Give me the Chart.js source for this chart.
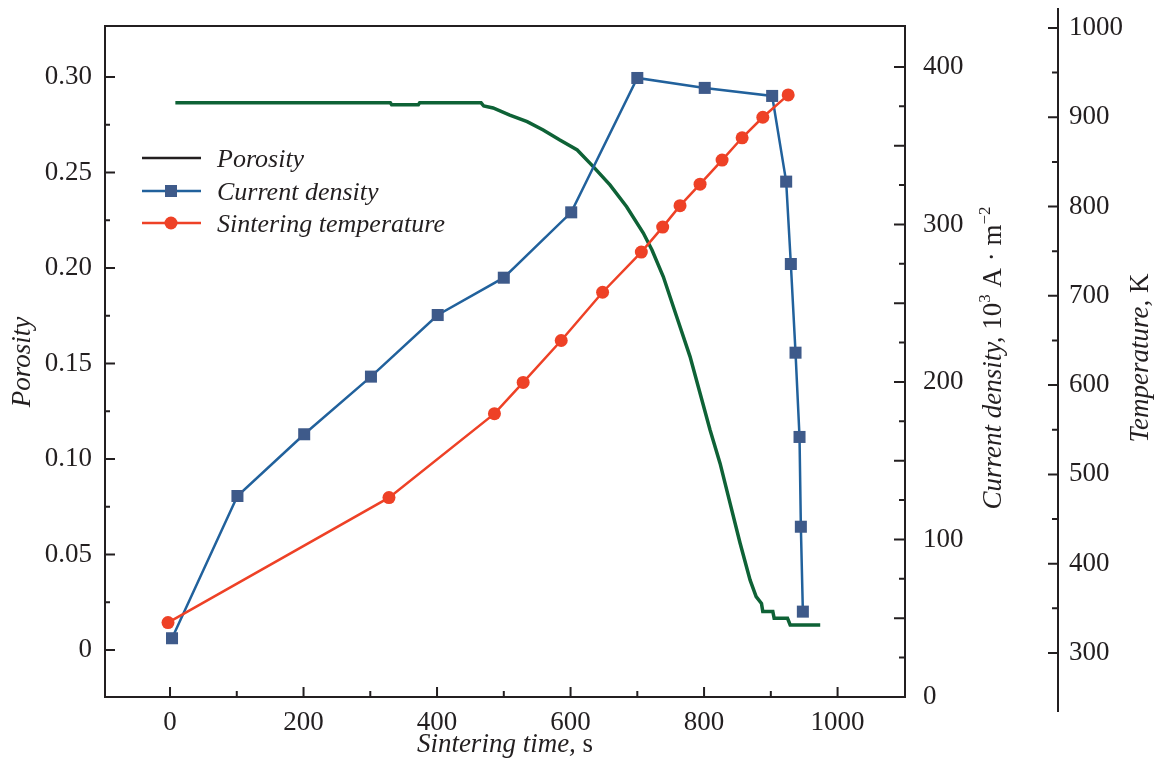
<!DOCTYPE html>
<html lang="en">
<head>
<meta charset="UTF-8">
<title>Porosity, current density and temperature vs sintering time</title>
<script src="https://cdn.jsdelivr.net/npm/chart.js"></script>
<style>
  html, body { margin: 0; padding: 0; background: #fff; }
  #wrap { width: 1154px; height: 764px; }
</style>
</head>
<body>
<div id="wrap"><canvas id="chart"></canvas></div>
<script>
// porosity trace, s / fraction
const porosityTime  = [8, 330, 332, 372, 374, 466, 470, 484, 509, 535, 559, 584, 610, 634, 659, 684, 709, 722, 739, 759, 779, 794, 809, 824, 839, 854, 869, 878, 886, 888, 903, 905, 925, 929, 974];
const porosityValue = [0.2865, 0.2865, 0.2855, 0.2855, 0.2865, 0.2865, 0.2848, 0.2838, 0.2801, 0.2766, 0.2723, 0.267, 0.2618, 0.2531, 0.2435, 0.2321, 0.2183, 0.2094, 0.1954, 0.1745, 0.1536, 0.1344, 0.1152, 0.0977, 0.0768, 0.0559, 0.0366, 0.028, 0.0244, 0.0201, 0.0201, 0.0166, 0.0166, 0.0131, 0.0131];

// current density, 10^3 A/m^2
const currentTime  = [3, 101, 201, 301, 401, 500, 601, 700, 801, 902, 923, 930, 937, 943, 945, 948];
const currentValue = [37.3, 127.6, 166.8, 203.4, 242.5, 266.2, 307.7, 393, 386.7, 381.6, 327.2, 274.9, 218.6, 165.1, 108.1, 54.2];

// sintering temperature, K
const tempTime  = [-3, 328, 486, 529, 586, 648, 706, 738, 764, 794, 827, 857, 888, 926];
const tempValue = [334, 474, 568, 603, 650, 704, 749, 777, 801, 825, 852, 877, 900, 925];

const timeTicks = [0, 200, 400, 600, 800, 1000];
const porosityTicks = [0, 0.05, 0.10, 0.15, 0.20, 0.25, 0.30];
const porosityLabels = ['0', '0.05', '0.10', '0.15', '0.20', '0.25', '0.30'];
const currentTicks = [0, 100, 200, 300, 400];
const tempTicks = [300, 400, 500, 600, 700, 800, 900, 1000];

const INK = '#231f20';
const SERIF = '"Liberation Serif", "Times New Roman", serif';
const BLUE = '#21619c', BLUE_PT = '#3e5a8a', RED = '#ee4126', GREEN = '#0e6236';

const pts = (xs, ys) => xs.map((x, i) => ({ x: x, y: ys[i] }));
const tickFont = { family: SERIF, size: 27 };
const fixTicks = arr => s => { s.ticks = arr.map(v => ({ value: v })); };
const noPad = w => s => { s.width = w; s.paddingTop = 0; s.paddingBottom = 0; };

function richText(ctx, parts, cx, cy, rot) {
  ctx.save();
  ctx.translate(cx, cy);
  ctx.rotate(rot);
  ctx.fillStyle = INK;
  ctx.textBaseline = 'alphabetic';
  let total = 0;
  parts.forEach(p => {
    p.font = (p.it ? 'italic ' : '') + (p.sup ? 17 : 27) + 'px ' + SERIF;
    ctx.font = p.font;
    p.w = ctx.measureText(p.t).width;
    total += p.w;
  });
  let x = -total / 2;
  parts.forEach(p => {
    ctx.font = p.font;
    ctx.fillText(p.t, x, 9 - (p.sup ? 11 : 0));
    x += p.w;
  });
  ctx.restore();
}

const frame = {
  id: 'frame',
  afterDraw(chart) {
    const ctx = chart.ctx, a = chart.chartArea, s = chart.scales;
    ctx.save();
    ctx.strokeStyle = INK;
    ctx.lineWidth = 2;
    ctx.strokeRect(a.left, a.top, a.right - a.left, a.bottom - a.top);

    ctx.beginPath();
    // porosity ticks
    for (let i = 0; i <= 12; i++) {
      const y = s.y.getPixelForValue(i * 0.025);
      ctx.moveTo(a.left, y); ctx.lineTo(a.left + (i % 2 ? 5 : 10), y);
    }
    // time ticks
    for (let t = 0; t <= 1000; t += 100) {
      const x = s.x.getPixelForValue(t);
      ctx.moveTo(x, a.bottom); ctx.lineTo(x, a.bottom - (t % 200 ? 6 : 10));
    }
    // current density ticks
    for (let v = 25; v <= 400; v += 25) {
      const y = s.yCd.getPixelForValue(v);
      ctx.moveTo(a.right, y); ctx.lineTo(a.right - (v % 50 ? 6 : 11), y);
    }
    // temperature axis
    const tx = s.yT.left;
    ctx.moveTo(tx, 8); ctx.lineTo(tx, 712);
    for (let v = 300; v <= 1000; v += 50) {
      const y = s.yT.getPixelForValue(v);
      ctx.moveTo(tx, y); ctx.lineTo(tx - (v % 100 ? 6 : 10), y);
    }
    ctx.stroke();

    // axis titles
    richText(ctx, [{ t: 'Porosity', it: true }], 21, 362, -Math.PI / 2);
    richText(ctx, [{ t: 'Sintering time,', it: true }, { t: ' s' }], (a.left + a.right) / 2, 743, 0);
    richText(ctx, [{ t: 'Current density,', it: true }, { t: ' 10' }, { t: '3', sup: true }, { t: ' A \u00b7 m' }, { t: '\u22122', sup: true }], 992, 358, -Math.PI / 2);
    richText(ctx, [{ t: 'Temperature,', it: true }, { t: ' K' }], 1139, 358, -Math.PI / 2);

    // legend
    const rows = [
      { y: 158, color: INK, label: 'Porosity' },
      { y: 191, color: BLUE, label: 'Current density', mark: 'rect' },
      { y: 223, color: RED, label: 'Sintering temperature', mark: 'circle' }
    ];
    rows.forEach(r => {
      ctx.strokeStyle = r.color;
      ctx.lineWidth = 2.5;
      ctx.beginPath(); ctx.moveTo(142, r.y); ctx.lineTo(201, r.y); ctx.stroke();
      if (r.mark === 'rect') { ctx.fillStyle = BLUE_PT; ctx.fillRect(165, r.y - 6, 12, 12); }
      if (r.mark === 'circle') { ctx.fillStyle = RED; ctx.beginPath(); ctx.arc(171, r.y, 6.5, 0, Math.PI * 2); ctx.fill(); }
      ctx.fillStyle = INK;
      ctx.font = 'italic 26px ' + SERIF;
      ctx.textBaseline = 'alphabetic';
      ctx.fillText(r.label, 217, r.y + 9);
    });
    ctx.restore();
  }
};

new Chart(document.getElementById('chart'), {
  type: 'line',
  data: {
    datasets: [
      {
        label: 'Sintering temperature', data: pts(tempTime, tempValue), yAxisID: 'yT',
        borderColor: RED, backgroundColor: RED, borderWidth: 2.5,
        pointStyle: 'circle', pointRadius: 6.5, pointBorderWidth: 0, pointBackgroundColor: RED
      },
      {
        label: 'Current density', data: pts(currentTime, currentValue), yAxisID: 'yCd',
        borderColor: BLUE, backgroundColor: BLUE_PT, borderWidth: 2.5,
        pointStyle: 'rect', pointRadius: 8.5, pointBorderWidth: 0, pointBackgroundColor: BLUE_PT
      },
      {
        label: 'Porosity', data: pts(porosityTime, porosityValue), yAxisID: 'y',
        borderColor: GREEN, borderWidth: 3.5, pointRadius: 0
      }
    ]
  },
  options: {
    responsive: true,
    maintainAspectRatio: false,
    animation: false,
    layout: { padding: { top: 26, left: 0, right: 0, bottom: 0 } },
    plugins: { legend: { display: false }, tooltip: { enabled: false } },
    elements: { line: { tension: 0 } },
    scales: {
      x: {
        type: 'linear', position: 'bottom', min: -97.4, max: 1101,
        grid: { display: false }, border: { display: false },
        ticks: { font: tickFont, color: INK, padding: 2, maxRotation: 0, autoSkip: false, callback: v => String(v) },
        afterBuildTicks: fixTicks(timeTicks),
        afterFit: s => { s.height = 67; s.paddingLeft = 0; s.paddingRight = 0; }
      },
      y: {
        type: 'linear', position: 'left', min: -0.0246, max: 0.3267,
        grid: { display: false }, border: { display: false },
        ticks: { font: tickFont, color: INK, padding: 5, autoSkip: false, callback: (v, i) => porosityLabels[i] },
        afterBuildTicks: fixTicks(porosityTicks),
        afterFit: noPad(105)
      },
      yCd: {
        type: 'linear', position: 'right', min: 0, max: 426, weight: 0,
        grid: { display: false }, border: { display: false },
        ticks: { font: tickFont, color: INK, padding: 10, autoSkip: false, callback: v => String(v) },
        afterBuildTicks: fixTicks(currentTicks),
        afterFit: noPad(153)
      },
      yT: {
        type: 'linear', position: 'right', min: 250.7, max: 1002.2, weight: 1,
        grid: { display: false }, border: { display: false },
        ticks: { font: tickFont, color: INK, padding: 3, autoSkip: false, callback: v => String(v) },
        afterBuildTicks: fixTicks(tempTicks),
        afterFit: noPad(96)
      }
    }
  },
  plugins: [frame]
});
</script>
</body>
</html>
